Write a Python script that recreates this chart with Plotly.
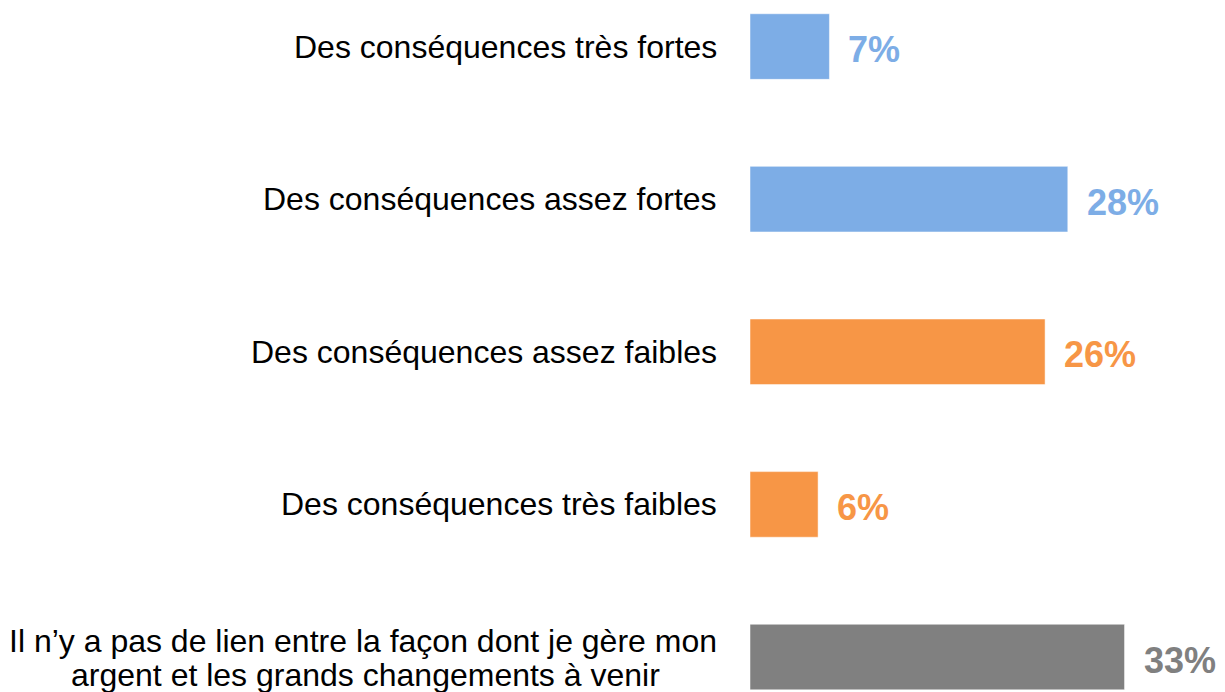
import plotly.graph_objects as go

categories = [
    "Des conséquences très fortes",
    "Des conséquences assez fortes",
    "Des conséquences assez faibles",
    "Des conséquences très faibles",
    "Il n’y a pas de lien entre la façon dont je gère mon<br>argent et les grands changements à venir",
]
values = [7, 28, 26, 6, 33]
value_labels = ["7%", "28%", "26%", "6%", "33%"]
colors = ["#7DADE6", "#7DADE6", "#F79646", "#F79646", "#808080"]

FONT = "Liberation Sans, Arial, sans-serif"
idx = list(range(len(categories)))

fig = go.Figure()
fig.add_trace(go.Bar(
    x=values, y=idx, orientation="h",
    marker=dict(color=colors, line=dict(color="rgba(255,255,255,0.5)", width=1)),
    width=0.43, hoverinfo="skip",
))

annotations = []
for i, (c, v, lab, col) in enumerate(zip(categories, values, value_labels, colors)):
    lines = c.split("<br>")
    if len(lines) == 1:
        annotations.append(dict(
            x=0, y=i, xref="x", yref="y", text=c, showarrow=False,
            xanchor="right", yanchor="middle", xshift=-31,
            font=dict(family=FONT, size=32, color="#000000"),
        ))
    else:
        annotations.append(dict(
            x=0, y=i, xref="x", yref="y", text=lines[0], showarrow=False,
            xanchor="right", yanchor="middle", xshift=-31, yshift=16,
            font=dict(family=FONT, size=32, color="#000000"),
        ))
        annotations.append(dict(
            x=0, y=i, xref="x", yref="y", text=lines[1], showarrow=False,
            xanchor="center", yanchor="middle", xshift=-385, yshift=-18,
            font=dict(family=FONT, size=32, color="#000000"),
        ))
    annotations.append(dict(
        x=v, y=i, xref="x", yref="y", text="<b>%s</b>" % lab, showarrow=False,
        xanchor="left", yanchor="middle", xshift=17, yshift=-3,
        font=dict(family=FONT, size=36, color=col),
    ))

fig.update_layout(
    width=1225, height=692,
    margin=dict(l=750, r=0, t=0, b=0),
    paper_bgcolor="white", plot_bgcolor="white",
    showlegend=False,
    xaxis=dict(range=[0, 41.85], visible=False, fixedrange=True),
    yaxis=dict(range=[4.229, -0.305], visible=False, fixedrange=True),
    annotations=annotations,
)

fig.write_html(
    "out.html",
    config={"displayModeBar": False},
    post_script="document.body.style.margin='0';document.body.style.overflow='hidden';",
)
